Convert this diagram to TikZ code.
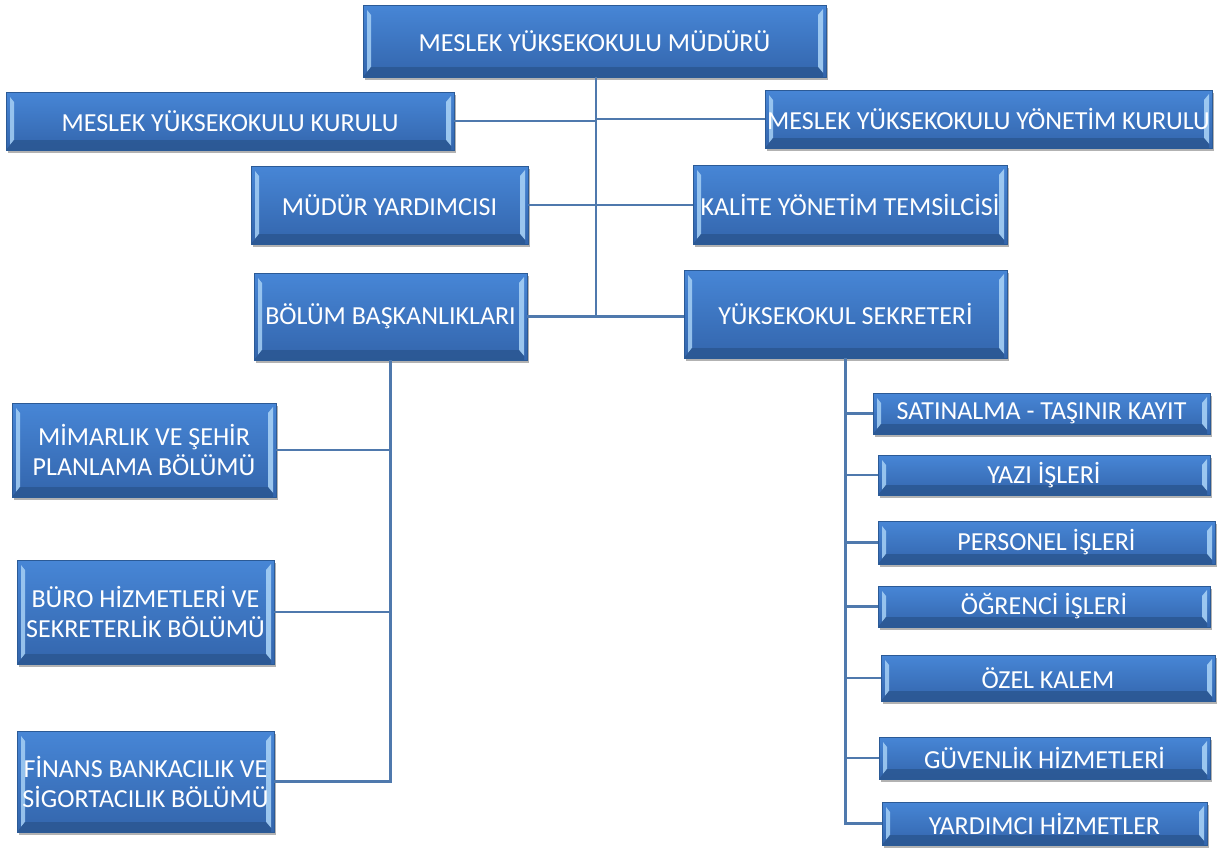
\documentclass[tikz,border=0pt]{standalone}
\usepackage{fontspec}
\setmainfont{Carlito}
\usetikzlibrary{shadows}
\definecolor{boxtop}{HTML}{4786D6}
\definecolor{boxbot}{HTML}{3365AC}
\definecolor{boxline}{HTML}{2B5A96}
\definecolor{bevlight}{HTML}{A6D0F5}
\definecolor{bevdark}{HTML}{2A5690}
\definecolor{conn}{HTML}{4F79AD}
\tikzset{
  orgbox/.style={rectangle, inner sep=0pt, align=center, text=white,
    top color=boxtop, bottom color=boxbot, draw=boxline, line width=0.6pt,
    drop shadow={shadow xshift=2pt, shadow yshift=-3pt, fill=black, opacity=0.3},
    path picture={
      \fill[bevlight, opacity=0.85]
        ([xshift=4pt,yshift=-5pt]path picture bounding box.north west) --
        ([xshift=8pt,yshift=-10pt]path picture bounding box.north west) --
        ([xshift=8pt,yshift=10pt]path picture bounding box.south west) --
        ([xshift=4pt,yshift=5pt]path picture bounding box.south west) -- cycle;
      \fill[bevlight, opacity=0.9]
        ([xshift=-3pt,yshift=-4pt]path picture bounding box.north east) --
        ([xshift=-8pt,yshift=-10pt]path picture bounding box.north east) --
        ([xshift=-8pt,yshift=10pt]path picture bounding box.south east) --
        ([xshift=-3pt,yshift=4pt]path picture bounding box.south east) -- cycle;
      \fill[bevdark, opacity=0.8]
        ([xshift=4pt,yshift=5pt]path picture bounding box.south west) --
        ([xshift=8pt,yshift=10pt]path picture bounding box.south west) --
        ([xshift=-8pt,yshift=10pt]path picture bounding box.south east) --
        ([xshift=-3pt,yshift=4pt]path picture bounding box.south east) --
        ([xshift=-3pt,yshift=0pt]path picture bounding box.south east) --
        ([xshift=0pt,yshift=0pt]path picture bounding box.south west) -- cycle;
    }},
  bigtxt/.style={font=\fontsize{26}{30}\selectfont},
  smalltxt/.style={font=\fontsize{26}{30}\selectfont},
  connector/.style={draw=conn, line width=2.5pt}
}
\begin{document}
\begin{tikzpicture}[x=1pt,y=-1pt]
\useasboundingbox (0,0) rectangle (1227,847);
% connectors first (behind boxes)
\coordinate (tr) at (596,77);
\coordinate (tb) at (596,316);
% top level
\node[orgbox,bigtxt,minimum width=463pt,minimum height=72pt] (mud) at (594.5,41) {MESLEK YÜKSEKOKULU MÜDÜRÜ};
\node[orgbox,bigtxt,minimum width=448pt,minimum height=58pt] (kur) at (230,121) {MESLEK YÜKSEKOKULU KURULU};
\node[orgbox,bigtxt,minimum width=447pt,minimum height=58pt] (yon) at (988.5,119) {MESLEK YÜKSEKOKULU YÖNETİM KURULU};
\node[orgbox,bigtxt,minimum width=277pt,minimum height=78pt] (myr) at (389.5,205) {MÜDÜR YARDIMCISI};
\node[orgbox,bigtxt,minimum width=314pt,minimum height=79pt] (kal) at (850,204.5) {KALİTE YÖNETİM TEMSİLCİSİ};
\node[orgbox,bigtxt,minimum width=273pt,minimum height=87pt] (bol) at (390.5,316.5) {BÖLÜM BAŞKANLIKLARI};
\node[orgbox,bigtxt,minimum width=323pt,minimum height=88pt] (sek) at (845.5,314) {YÜKSEKOKUL SEKRETERİ};
% departments
\node[orgbox,bigtxt,minimum width=264pt,minimum height=94pt] (mim) at (144,450) {MİMARLIK VE ŞEHİR\\PLANLAMA BÖLÜMÜ};
\node[orgbox,bigtxt,minimum width=257pt,minimum height=104pt] (bur) at (145.5,612) {BÜRO HİZMETLERİ VE\\SEKRETERLİK BÖLÜMÜ};
\node[orgbox,bigtxt,minimum width=257pt,minimum height=101pt] (fin) at (145.5,781.5) {FİNANS BANKACILIK VE\\SİGORTACILIK BÖLÜMÜ};
% secretary units
\node[orgbox,smalltxt,minimum width=337pt,minimum height=41pt] (sat) at (1041.5,413.5) {SATINALMA - TAŞINIR KAYIT};
\node[orgbox,smalltxt,minimum width=332pt,minimum height=40pt] (yaz) at (1044,475) {YAZI İŞLERİ};
\node[orgbox,smalltxt,minimum width=337pt,minimum height=43pt] (per) at (1046.5,542.5) {PERSONEL İŞLERİ};
\node[orgbox,smalltxt,minimum width=332pt,minimum height=41pt] (ogr) at (1044,606.5) {ÖĞRENCİ İŞLERİ};
\node[orgbox,smalltxt,minimum width=334pt,minimum height=46pt] (oze) at (1048,678) {ÖZEL KALEM};
\node[orgbox,smalltxt,minimum width=331pt,minimum height=42pt] (guv) at (1044.5,758) {GÜVENLİK HİZMETLERİ};
\node[orgbox,smalltxt,minimum width=325pt,minimum height=43pt] (yrd) at (1044.5,823.5) {YARDIMCI HİZMETLER};
% connectors: main trunk
\draw[connector] (tr) -- (tb);
\draw[connector] (kur.east) -- (kur.east -| tr);
\draw[connector] (yon.west -| tr) -- (yon.west);
\draw[connector] (myr.east) -- (myr.east -| kal.west);
\draw[connector] (bol.east) -- (bol.east -| sek.west);
% departments trunk
\draw[connector] (bol.south) |- (fin.east);
\draw[connector] (mim.east) -- (mim.east -| bol.south);
\draw[connector] (bur.east) -- (bur.east -| bol.south);
% secretary trunk
\draw[connector] (sek.south) |- (yrd.west);
\draw[connector] (sat.west) -- (sat.west -| sek.south);
\draw[connector] (yaz.west) -- (yaz.west -| sek.south);
\draw[connector] (per.west) -- (per.west -| sek.south);
\draw[connector] (ogr.west) -- (ogr.west -| sek.south);
\draw[connector] (oze.west) -- (oze.west -| sek.south);
\draw[connector] (guv.west) -- (guv.west -| sek.south);
\end{tikzpicture}
\end{document}
